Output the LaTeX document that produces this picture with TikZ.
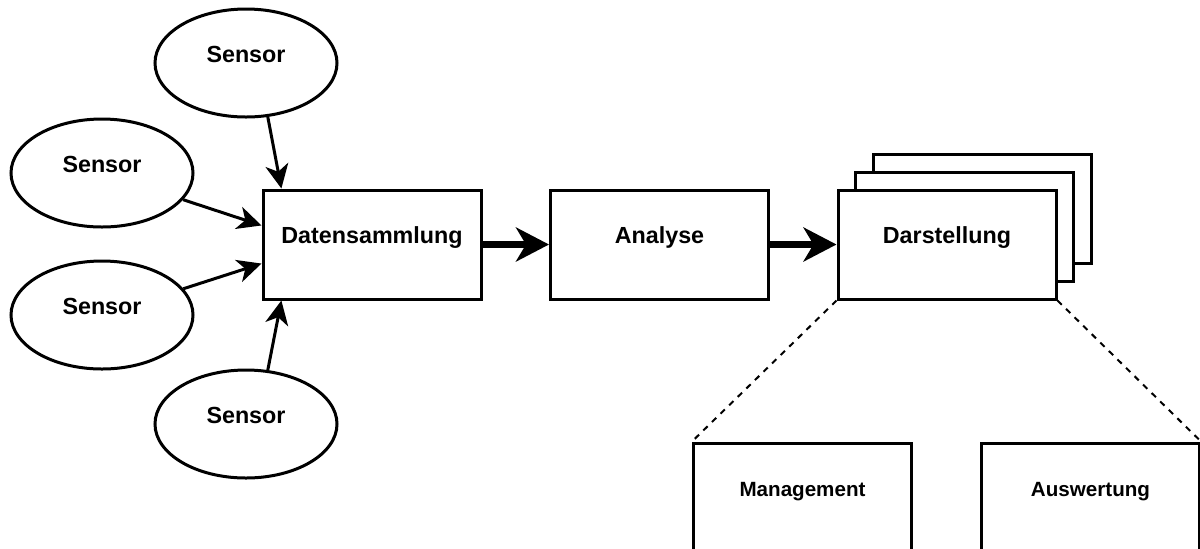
\documentclass[tikz,border=0pt]{standalone}
\usepackage{fontspec}
\setmainfont{Liberation Sans}
\usetikzlibrary{arrows.meta,shapes.geometric,calc}

\tikzset{
    box/.style={draw, line width=1.5pt, fill=white, inner sep=0pt,
        minimum width=109pt, minimum height=54.5pt,
        text height=8pt, text depth=9pt,
        font=\bfseries\fontsize{11.65}{14}\selectfont},
    sensor/.style={ellipse, draw, line width=1.5pt, inner sep=0pt,
        minimum width=91pt, minimum height=54pt,
        text height=8pt, text depth=9pt,
        font=\bfseries\fontsize{11.65}{14}\selectfont},
    small/.style={font=\bfseries\fontsize{10.3}{12}\selectfont},
    feed/.style={-{Stealth[length=12pt,width=11.5pt,inset=3.5pt]}, line width=1.5pt},
    flow/.style={-{Stealth[length=16.5pt,width=17pt,inset=5pt]}, line width=3.25pt},
    zoomline/.style={line width=1pt, dash pattern=on 3pt off 3pt}
}

\begin{document}
\begin{tikzpicture}[x=0.5pt,y=-0.5pt]
    \clip (0,0) rectangle (1200,548);

    \node[sensor] (st) at (246,63) {Sensor};
    \node[sensor] (s1) at (102,173) {Sensor};
    \node[sensor] (s2) at (102,315) {Sensor};
    \node[sensor] (sb) at (246,424) {Sensor};

    \node[box] (ds) at (372,244.5) {Datensammlung};
    \node[box] (an) at (659.5,244.5) {Analyse};
    \foreach \k in {2,1}
        \node[box] (dar\k) at ({947+17.5*\k},{244.5-18*\k}) {};
    \node[box] (dar) at (947,244.5) {Darstellung};

    \node[box, small] (mgmt) at (802.5,497.5) {Management};
    \node[box, small] (ausw) at (1090.5,497.5) {Auswertung};

    \draw[feed] (st.-68) -- ($(ds.north west)!0.09!(ds.north east)$);
    \draw[feed] (s1) -- ($(ds.north west)!0.33!(ds.south west)$);
    \draw[feed] (s2) -- ($(ds.north west)!0.67!(ds.south west)$);
    \draw[feed] (sb.68) -- ($(ds.south west)!0.09!(ds.south east)$);

    \draw[flow] (ds) -- (an);
    \draw[flow] (an) -- (dar);

    \draw[zoomline] (dar.south west) -- (mgmt.north west);
    \draw[zoomline] (dar.south east) -- (ausw.north east);
\end{tikzpicture}
\end{document}
